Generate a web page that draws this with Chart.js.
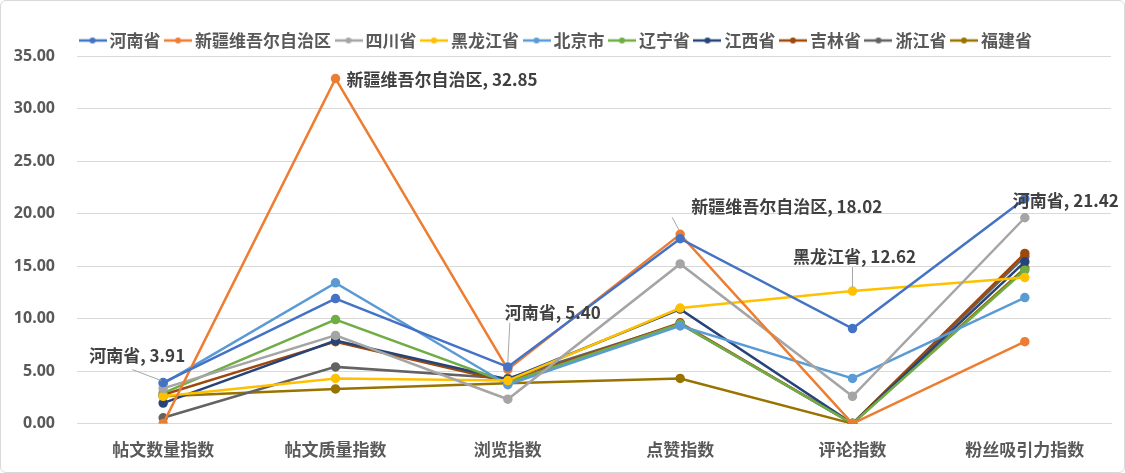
<!DOCTYPE html>
<html>
<head>
<meta charset="utf-8">
<script src="https://cdn.jsdelivr.net/npm/chart.js@4"></script>
<style>
  html, body { margin: 0; padding: 0; background: #fff; }
  #wrap { position: relative; width: 1123px; height: 471px; border: 1px solid #d9d9d9; border-radius: 6px; overflow: hidden; }
</style>
</head>
<body>
<div id="wrap"><canvas id="chart"></canvas></div>
<script>
const categories = ["帖文数量指数", "帖文质量指数", "浏览指数", "点赞指数", "评论指数", "粉丝吸引力指数"];

const provinces = ["河南省", "新疆维吾尔自治区", "四川省", "黑龙江省", "北京市", "辽宁省", "江西省", "吉林省", "浙江省", "福建省"];

const henan    = [3.91, 11.90, 5.40, 17.60, 9.05, 21.42];
const xinjiang = [0.00, 32.85, 5.15, 18.02, 0.00, 7.80];
const sichuan  = [3.35, 8.40, 2.32, 15.20, 2.60, 19.60];
const heilongjiang = [2.60, 4.30, 4.10, 11.00, 12.62, 13.90];
const beijing  = [3.80, 13.40, 3.70, 9.30, 4.30, 12.00];
const liaoning = [2.90, 9.90, 3.90, 9.50, 0.00, 14.60];
const jiangxi  = [1.95, 7.90, 4.20, 10.90, 0.00, 15.40];
const jilin    = [2.75, 7.80, 4.00, 9.60, 0.00, 16.20];
const zhejiang = [0.55, 5.40, 4.30, 9.50, 0.00, 15.90];
const fujian   = [2.60, 3.30, 3.85, 4.30, 0.00, 14.80];

const yTicks = [0, 5, 10, 15, 20, 25, 30, 35];

const seriesValues = [henan, xinjiang, sichuan, heilongjiang, beijing, liaoning, jiangxi, jilin, zhejiang, fujian];
const colors = ["#4472C4", "#ED7D31", "#A5A5A5", "#FFC000", "#5B9BD5", "#70AD47", "#264478", "#9E480E", "#636363", "#997300"];

// labelled points: series index, category index, offset of text, alignment
const callouts = [
  { s: 0, c: 0, dx: -26, dy: -27, align: "center", leader: [[-31, -13], [-2, -2]] },
  { s: 1, c: 1, dx: 11, dy: 1, align: "left" },
  { s: 0, c: 2, dx: 45, dy: -54, align: "center", leader: [[2, -44], [0, -5]] },
  { s: 1, c: 3, dx: 11, dy: -28, align: "left", leader: [[-8, -17], [-1, -4]] },
  { s: 3, c: 4, dx: 2, dy: -35, align: "center", leader: [[0, -24], [0, -4]] },
  { s: 0, c: 5, dx: -12, dy: 2, align: "left" }
];

function legendIcon(color) {
  const cv = document.createElement("canvas");
  cv.width = 28; cv.height = 10;
  const g = cv.getContext("2d");
  g.strokeStyle = color; g.lineWidth = 2.5;
  g.beginPath(); g.moveTo(0, 5); g.lineTo(28, 5); g.stroke();
  g.fillStyle = color;
  g.beginPath(); g.arc(14, 5, 3, 0, Math.PI * 2); g.fill();
  return cv;
}

// legend keeps its horizontal spacing but takes less vertical room
const legendTrim = {
  id: "legendTrim",
  beforeUpdate(chart) {
    const lg = chart.legend;
    if (lg && !lg._trimmed) {
      const fit = lg.fit;
      lg.fit = function() { fit.call(this); this.height -= 3; };
      lg._trimmed = true;
    }
  }
};

const calloutPlugin = {
  id: "callouts",
  afterDatasetsDraw(chart) {
    const ctx = chart.ctx;
    ctx.save();
    ctx.font = "bold 17px 'Noto Sans CJK SC', 'Open Sans', sans-serif";
    ctx.fillStyle = "#404040";
    ctx.textBaseline = "middle";
    callouts.forEach(function(k) {
      const pt = chart.getDatasetMeta(k.s).data[k.c];
      const v = seriesValues[k.s][k.c];
      if (k.leader) {
        ctx.strokeStyle = "#A6A6A6";
        ctx.lineWidth = 1;
        ctx.beginPath();
        ctx.moveTo(pt.x + k.leader[0][0], pt.y + k.leader[0][1]);
        ctx.lineTo(pt.x + k.leader[1][0], pt.y + k.leader[1][1]);
        ctx.stroke();
      }
      ctx.textAlign = k.align;
      ctx.fillText(provinces[k.s] + ", " + v.toFixed(2), pt.x + k.dx, pt.y + k.dy);
    });
    ctx.restore();
  }
};

new Chart(document.getElementById("chart"), {
  type: "line",
  data: {
    labels: categories,
    datasets: provinces.map(function(p, i) {
      return {
        label: p,
        data: seriesValues[i],
        borderColor: colors[i],
        backgroundColor: colors[i],
        borderWidth: 2.5,
        pointRadius: 3.5,
        pointHoverRadius: 3.5,
        tension: 0
      };
    })
  },
  options: {
    responsive: true,
    maintainAspectRatio: false,
    animation: false,
    layout: { padding: { top: 22, right: 13, bottom: 4, left: 4 } },
    plugins: {
      tooltip: { enabled: false },
      legend: {
        position: "top",
        align: "center",
        labels: {
          usePointStyle: true,
          generateLabels(chart) {
            return chart.data.datasets.map(function(d, i) {
              return { text: d.label, pointStyle: legendIcon(colors[i]), fontColor: "#595959", strokeStyle: colors[i], fillStyle: colors[i], datasetIndex: i, hidden: false, lineWidth: 0 };
            });
          },
          color: "#595959",
          font: { size: 17, weight: "bold", family: "'Noto Sans CJK SC', sans-serif" },
          padding: 9
        }
      }
    },
    scales: {
      x: {
        offset: true,
        grid: { display: false },
        border: { color: "#D9D9D9" },
        ticks: {
          color: "#595959",
          padding: 8,
          font: { size: 17, weight: "bold", family: "'Noto Sans CJK SC', sans-serif" }
        }
      },
      y: {
        min: yTicks[0],
        max: yTicks[yTicks.length - 1],
        afterBuildTicks(axis) { axis.ticks = yTicks.map(function(v) { return { value: v }; }); },
        afterFit(axis) { axis.width = 72; },
        grid: { color: "#D9D9D9", drawTicks: false },
        border: { display: false },
        ticks: {
          color: "#595959",
          padding: 22,
          font: { size: 16, weight: "bold", family: "'Open Sans', sans-serif" },
          callback: function(v) { return Number(v).toFixed(2); }
        }
      }
    }
  },
  plugins: [legendTrim, calloutPlugin]
});
</script>
</body>
</html>
